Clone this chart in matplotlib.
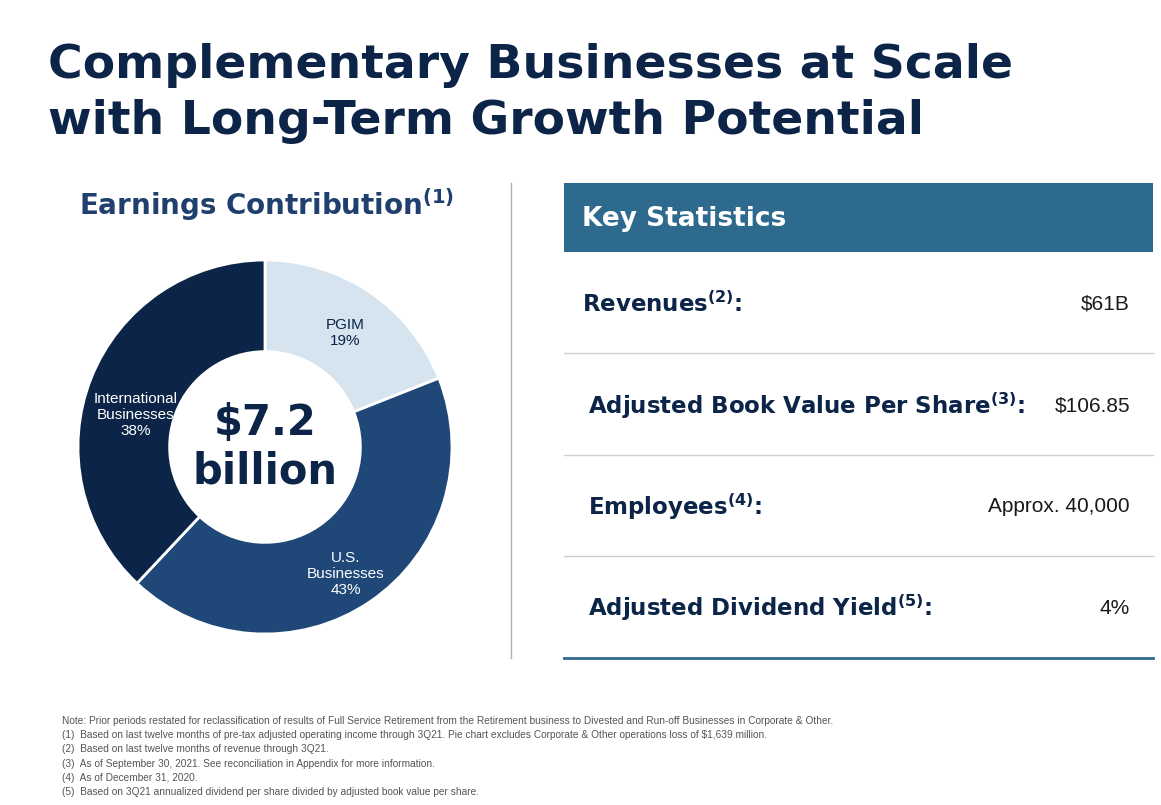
import matplotlib.pyplot as plt
from matplotlib.patches import Rectangle

W, H = 1161, 805
navy = '#0b2447'
mid = '#1f4778'
light = '#d6e4f0'
teal = '#2e6a8e'
narrow = ['Liberation Sans Narrow', 'DejaVu Sans']
plt.rcParams['mathtext.fontset'] = 'custom'
plt.rcParams['mathtext.bf'] = 'Liberation Sans Narrow:bold'
plt.rcParams['mathtext.rm'] = 'Liberation Sans Narrow'

labels = ['PGIM\n19%', 'U.S.\nBusinesses\n43%', 'International\nBusinesses\n38%']
shares = [19, 43, 38]
colors = [light, mid, navy]
label_colors = [navy, 'white', 'white']

stat_names = [r'Revenues$^{\mathbf{(2)}}$:', r'Adjusted Book Value Per Share$^{\mathbf{(3)}}$:',
              r'Employees$^{\mathbf{(4)}}$:', r'Adjusted Dividend Yield$^{\mathbf{(5)}}$:']
stat_values = ['$61B', '$106.85', 'Approx. 40,000', '4%']
stat_name_x = [582, 588, 588, 588]
stat_y = [304, 406, 507, 608]

notes = [
    'Note: Prior periods restated for reclassification of results of Full Service Retirement from the Retirement business to Divested and Run-off Businesses in Corporate & Other.',
    '(1)  Based on last twelve months of pre-tax adjusted operating income through 3Q21. Pie chart excludes Corporate & Other operations loss of $1,639 million.',
    '(2)  Based on last twelve months of revenue through 3Q21.',
    '(3)  As of September 30, 2021. See reconciliation in Appendix for more information.',
    '(4)  As of December 31, 2020.',
    '(5)  Based on 3Q21 annualized dividend per share divided by adjusted book value per share.',
]

fig = plt.figure(figsize=(W / 100, H / 100), dpi=100)
fig.patch.set_facecolor('white')

def fx(x): return x / W
def fy(y): return 1 - y / H

fig.text(fx(48), fy(66), 'Complementary Businesses at Scale', fontsize=34, fontweight='bold',
         color=navy, va='center', family=narrow)
fig.text(fx(48), fy(121), 'with Long-Term Growth Potential', fontsize=34, fontweight='bold',
         color=navy, va='center', family=narrow)

fig.text(fx(267), fy(205), r'Earnings Contribution$^{\mathbf{(1)}}$', fontsize=20, fontweight='bold',
         color='#1f3f6e', ha='center', va='center', family=narrow)

# donut
cx, cy, r = 265, 447, 187
ax = fig.add_axes([fx(cx - r), fy(cy + r), 2 * r / W, 2 * r / H])
wedges, texts = ax.pie(shares, colors=colors, startangle=90, counterclock=False,
                       wedgeprops=dict(width=0.49, edgecolor='white', linewidth=2),
                       labels=labels, labeldistance=0.72,
                       textprops=dict(fontsize=11, ha='center', va='center', family='Liberation Sans'))
for t, c in zip(texts, label_colors):
    t.set_color(c)
    t.set_multialignment('center')
texts[2].set_position((-0.69, 0.17))
texts[0].set_position((0.43, 0.61))
texts[1].set_position((0.43, -0.68))
ax.text(0, 0.0, '$7.2\nbillion', ha='center', va='center', fontsize=30, fontweight='bold',
        color=navy, linespacing=1.2, family=narrow)
ax.set_xlim(-1, 1)
ax.set_ylim(-1, 1)
ax.set_aspect('equal')

# divider
fig.add_artist(plt.Line2D([fx(511), fx(511)], [fy(183), fy(658)], color='#b0b0b0', lw=1))

# key statistics table
fig.add_artist(Rectangle((fx(564), fy(252)), (1153 - 564) / W, (252 - 183) / H,
                         transform=fig.transFigure, color=teal, lw=0))
fig.text(fx(582), fy(219), 'Key Statistics', fontsize=19, fontweight='bold', color='white',
         va='center', family=narrow)
for y in [353, 455, 556]:
    fig.add_artist(plt.Line2D([fx(564), fx(1153)], [fy(y), fy(y)], color='#d0d0d0', lw=1))
fig.add_artist(plt.Line2D([fx(564), fx(1153)], [fy(658), fy(658)], color=teal, lw=2))
for name, val, x, y in zip(stat_names, stat_values, stat_name_x, stat_y):
    fig.text(fx(x), fy(y), name, fontsize=16.5, fontweight='bold', color=navy, va='center', family=narrow)
    fig.text(fx(1130), fy(y), val.replace('$', r'\$'), fontsize=15, color='#1a1a1a', ha='right',
             va='center', family='Liberation Sans')

for i, n in enumerate(notes):
    fig.text(fx(62), fy(721 + i * 14.2), n.replace('$', r'\$'), fontsize=7.3, color='#555555',
             va='center', family='Liberation Sans')

fig.savefig('out.png', dpi=100)
